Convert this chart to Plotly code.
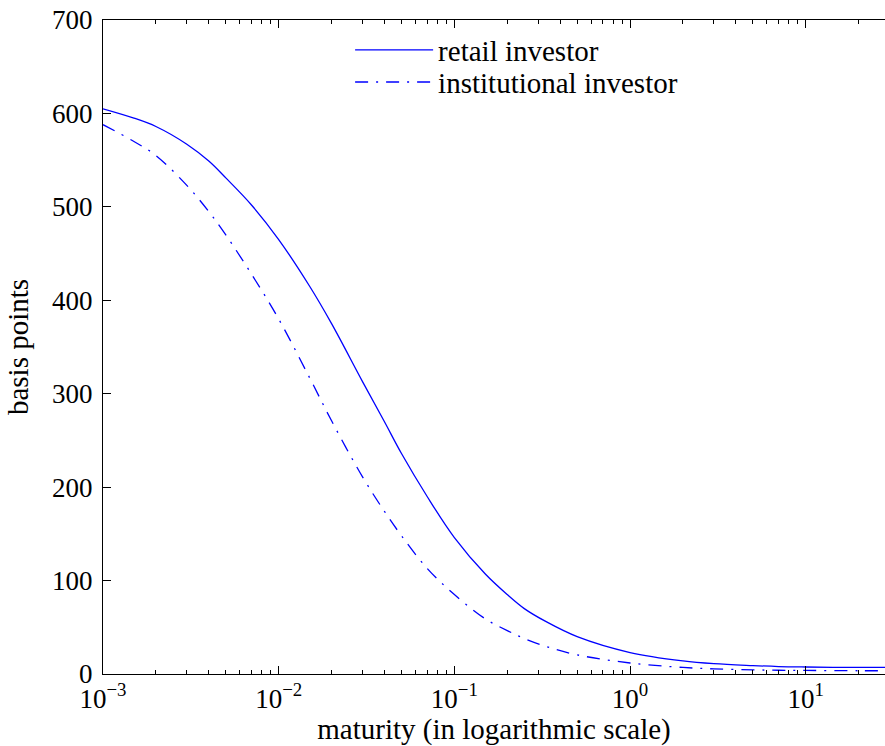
import plotly.graph_objects as go

maturity = [0.001, 0.0015, 0.002, 0.003, 0.004, 0.005, 0.007, 0.01, 0.015, 0.02, 0.03, 0.04, 0.05,
            0.07, 0.1, 0.15, 0.2, 0.25, 0.333, 0.5, 1, 2, 3, 5, 7, 10, 20, 30]
retail = [605, 595, 586, 567, 549, 531, 502, 465, 415, 375, 313, 270, 236,
          190, 146, 107, 85, 70, 56, 40, 23, 14, 11, 9, 8, 7.5, 7, 7]
institutional = [588, 570, 555, 523, 495, 470, 428, 380, 317, 271, 211, 174, 148,
                 113, 85, 59, 46.5, 38, 29.5, 20.5, 11.8, 7, 5.5, 4.5, 4, 3.8, 3.5, 3.5]

x_tickvals = [0.001, 0.01, 0.1, 1, 10]
x_ticktext = ["10<sup>\u22123</sup>", "10<sup>\u22122</sup>", "10<sup>\u22121</sup>",
              "10<sup>0</sup>", "10<sup>1</sup>"]
y_tickvals = [0, 100, 200, 300, 400, 500, 600, 700]

FONT = "Liberation Serif"
FS_TICK = 27
FS_TEXT = 29

fig = go.Figure()
fig.add_trace(go.Scatter(x=maturity, y=retail, mode="lines", name="retail investor",
                         line=dict(color="#0000ff", width=1.3, shape="spline", smoothing=1.0),
                         legend="legend"))
fig.add_trace(go.Scatter(x=maturity, y=institutional, mode="lines", name="institutional investor",
                         line=dict(color="#0000ff", width=1.3, dash="13px,8px,2px,8px",
                                   shape="spline", smoothing=1.0),
                         legend="legend2"))

leg_common = dict(xanchor="left", yanchor="middle", bgcolor="rgba(0,0,0,0)", borderwidth=0,
                  font=dict(family=FONT, size=FS_TEXT), itemwidth=78)

fig.update_layout(
    width=885, height=746,
    margin=dict(l=103, r=0, t=20, b=72),
    paper_bgcolor="white", plot_bgcolor="white",
    font=dict(family=FONT, size=FS_TICK, color="black"),
    showlegend=True,
    legend=dict(x=0.316, y=0.954, **leg_common),
    legend2=dict(x=0.316, y=0.905, **leg_common),
    xaxis=dict(type="log", range=[-3, 1.451], tickvals=x_tickvals, ticktext=x_ticktext,
               ticks="inside", ticklen=8, tickwidth=1, tickcolor="black",
               showline=True, linecolor="black", linewidth=1.3, mirror="ticks",
               showgrid=False, zeroline=False,
               minor=dict(ticks="inside", ticklen=4, tickcolor="black", showgrid=False,
                          dtick="D1"),
               title=dict(text="maturity (in logarithmic scale)", standoff=7,
                          font=dict(family=FONT, size=FS_TEXT))),
    yaxis=dict(range=[0, 700], tickvals=y_tickvals,
               ticks="inside", ticklen=8, tickwidth=1, tickcolor="black",
               showline=True, linecolor="black", linewidth=1.3, mirror=False,
               showgrid=False, zeroline=False, ticklabelstandoff=4,
               title=dict(text="basis points", standoff=14,
                          font=dict(family=FONT, size=FS_TEXT))),
    yaxis2=dict(range=[0, 700], tickvals=y_tickvals, overlaying="y", side="right",
                anchor="x", matches="y", ticks="inside", ticklen=8, tickwidth=1,
                tickcolor="black", showticklabels=False, showline=False,
                showgrid=False, zeroline=False),
)

fig.write_html("out.html", config={"displayModeBar": False},
               post_script="document.body.style.margin='0';")
